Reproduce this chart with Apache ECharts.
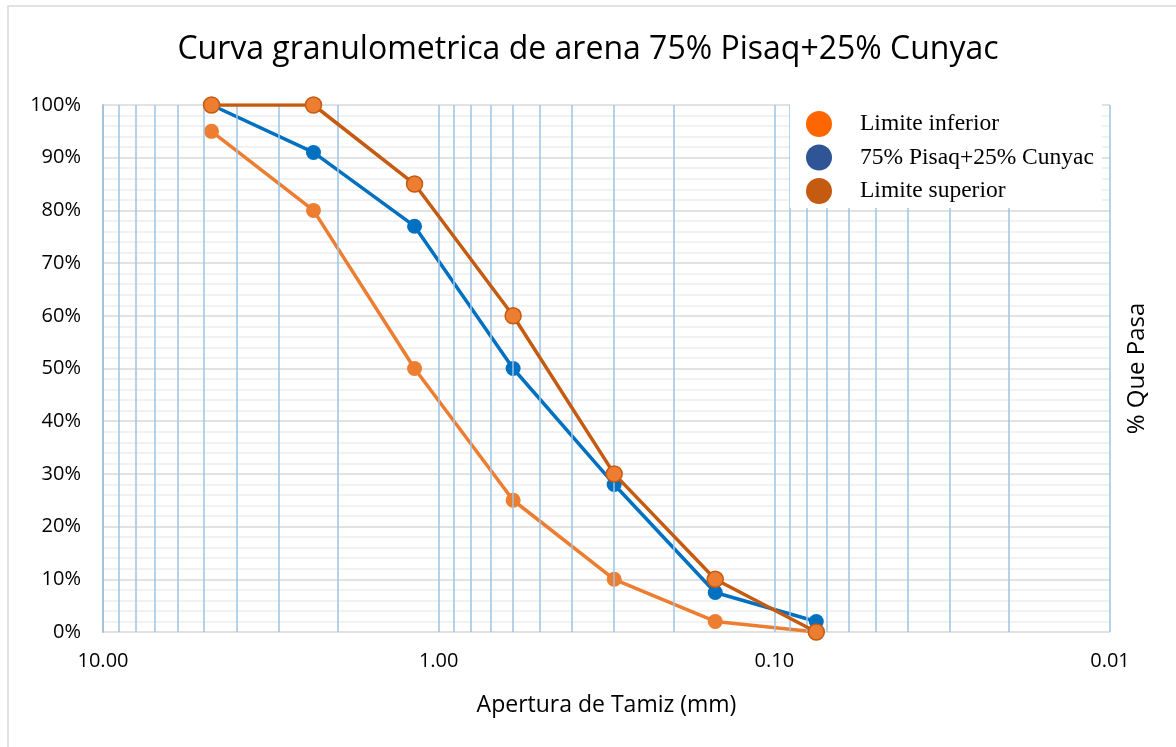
<!DOCTYPE html>
<html style="height: 100%">
<head>
<meta charset="utf-8">
<title>Curva granulometrica</title>
<script src="https://cdn.jsdelivr.net/npm/echarts@6/dist/echarts.min.js"></script>
</head>
<body style="height: 100%; margin: 0; background: #fff">
<div id="container" style="width: 1176px; height: 747px"></div>
<script type="text/javascript">
// sieve openings (mm)
var aperturas = [4.75, 2.36, 1.18, 0.6, 0.3, 0.15, 0.075];
var limiteInferior = [95, 80, 50, 25, 10, 2, 0];
var muestra = [100, 91, 77, 50, 28, 7.5, 2];
var limiteSuperior = [100, 100, 85, 60, 30, 10, 0];
// vertical log gridlines (mm)
var gridX = [10, 9, 8, 7, 6, 5, 4, 3, 2, 1, 0.9, 0.8, 0.7, 0.6, 0.5, 0.4, 0.3, 0.2, 0.1,
             0.09, 0.08, 0.07, 0.06, 0.05, 0.04, 0.03, 0.02, 0.01];

function pares(ys) {
    return aperturas.map(function (x, i) { return [x, ys[i]]; });
}

var chart = echarts.init(document.getElementById('container'));
var sans = '"Open Sans", "Noto Sans", sans-serif';
var serif = '"Liberation Serif", serif';

chart.setOption({
    animation: false,
    title: {
        text: 'Curva granulometrica de arena 75% Pisaq+25% Cunyac',
        left: 'center',
        top: 29,
        textStyle: { fontFamily: sans, fontWeight: 'normal', fontSize: 32, color: '#000' }
    },
    graphic: [{
        type: 'polyline',
        shape: { points: [[8, 760], [8, 6], [1190, 6]] },
        style: { stroke: '#D9D9D9', lineWidth: 1.5, fill: null },
        silent: true
    }],
    legend: {
        orient: 'vertical',
        left: 790,
        top: 100,
        z: 20,
        padding: [11, 8, 4, 16],
        itemWidth: 26,
        itemHeight: 26,
        itemGap: 7.5,
        backgroundColor: '#fff',
        textStyle: { fontFamily: serif, fontSize: 23.5, color: '#000', padding: [0, 0, 0, 23] },
        data: [
            { name: 'Limite inferior', icon: 'circle', itemStyle: { color: '#FF6600', borderWidth: 0 } },
            { name: '75% Pisaq+25% Cunyac', icon: 'circle', itemStyle: { color: '#2F5597', borderWidth: 0 } },
            { name: 'Limite superior', icon: 'circle', itemStyle: { color: '#C55A11', borderWidth: 0 } }
        ]
    },
    grid: { left: 103, right: 66, top: 105, bottom: 115 },
    xAxis: {
        type: 'log',
        logBase: 10,
        min: 0.01,
        max: 10,
        inverse: true,
        name: 'Apertura de Tamiz (mm)',
        nameLocation: 'middle',
        nameGap: 62,
        nameTextStyle: { fontFamily: sans, fontSize: 23, color: '#000' },
        axisLine: { show: false },
        axisTick: { show: false },
        splitLine: { show: false },
        axisLabel: {
            margin: 19,
            fontFamily: sans, fontSize: 20, color: '#000',
            formatter: function (v) { return v.toFixed(2); }
        }
    },
    yAxis: [{
        type: 'value',
        min: 0,
        max: 100,
        interval: 10,
        axisLine: { show: true, lineStyle: { color: '#BFBFBF', width: 2 } },
        axisTick: { show: false },
        axisLabel: {
            margin: 22,
            fontFamily: sans, fontSize: 20, color: '#000',
            formatter: '{value}%'
        },
        splitLine: { show: true, lineStyle: { color: '#D9D9D9', width: 1.5 } },
        minorTick: { show: false, splitNumber: 5 },
        minorSplitLine: { show: true, lineStyle: { color: '#EEEEEE', width: 1.5 } }
    }, {
        type: 'value',
        min: 0,
        max: 100,
        position: 'right',
        name: '% Que Pasa',
        nameLocation: 'middle',
        nameRotate: 90,
        nameGap: 15,
        nameTextStyle: { fontFamily: sans, fontSize: 24, color: '#000' },
        axisLine: { show: false },
        axisTick: { show: false },
        axisLabel: { show: false },
        splitLine: { show: false }
    }],
    series: [{
        name: 'rejilla',
        type: 'line',
        data: [],
        silent: true,
        z: 1,
        markLine: {
            silent: true,
            symbol: 'none',
            label: { show: false },
            animation: false,
            lineStyle: { color: '#9DC3E6', width: 1.5, type: 'solid' },
            data: gridX.map(function (v) { return { xAxis: v }; })
        }
    }, {
        name: 'Limite inferior',
        type: 'line',
        data: pares(limiteInferior),
        symbol: 'circle',
        symbolSize: 15,
        z: 3,
        lineStyle: { color: '#ED7D31', width: 3.5 },
        itemStyle: { color: '#ED7D31' }
    }, {
        name: '75% Pisaq+25% Cunyac',
        type: 'line',
        data: pares(muestra),
        symbol: 'circle',
        symbolSize: 15,
        z: 4,
        lineStyle: { color: '#0070C0', width: 3.5 },
        itemStyle: { color: '#0070C0' }
    }, {
        name: 'Limite superior',
        type: 'line',
        data: pares(limiteSuperior),
        symbol: 'circle',
        symbolSize: 16,
        z: 5,
        lineStyle: { color: '#C55A11', width: 3.5 },
        itemStyle: { color: '#ED7D31', borderColor: '#C55A11', borderWidth: 1.5 }
    }]
});
</script>
</body>
</html>
